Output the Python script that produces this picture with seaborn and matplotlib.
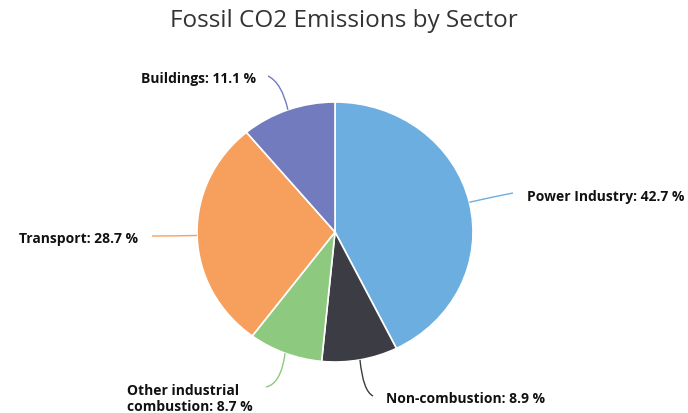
import numpy as np
import matplotlib
matplotlib.use("Agg")
import matplotlib.pyplot as plt
import seaborn as sns
from matplotlib.path import Path
from matplotlib.patches import PathPatch

# data
sectors = ["Power Industry", "Non-combustion", "Other industrial\ncombustion", "Transport", "Buildings"]
shares = [42.7, 8.9, 8.7, 28.7, 11.1]
colors = ["#6daee0", "#3c3d44", "#8dc97e", "#f7a05d", "#727bbd"]

sns.set_theme(style="white")
plt.rcParams['font.family'] = ['Open Sans', 'DejaVu Sans']

W, H = 688, 414
fig = plt.figure(figsize=(W / 100, H / 100), dpi=100)

# pie sits in its own axes (slightly wider than tall, like the reference)
cx, cy, rx, ry = 335, 233, 138, 130
ax = fig.add_axes([(cx - rx) / W, (H - cy - ry) / H, 2 * rx / W, 2 * ry / H])
wedges, _ = ax.pie(shares, colors=colors, startangle=90, counterclock=False,
                   radius=1, frame=True,
                   wedgeprops=dict(edgecolor="white", linewidth=1.2))
ax.set_aspect("auto")
ax.set_xlim(-1, 1)
ax.set_ylim(-1, 1)
ax.axis("off")

# overlay in pixel coords for labels and connectors
ov = fig.add_axes([0, 0, 1, 1], facecolor="none")
ov.set_xlim(0, W)
ov.set_ylim(H, 0)
ov.axis("off")

# label layout: (control point, connector end, text xy, ha)
layout = [
    ((492, 198), (513, 194), (527, 197), "left"),
    ((363, 392), (373, 397), (386, 399), "left"),
    ((281, 385), (266, 388), (253, 399), "right"),
    ((175, 237), (152, 237), (138, 239), "right"),
    ((282, 84), (268, 77), (256, 79), "right"),
]

for w, name, val, col, (ctrl, end, txy, ha) in zip(wedges, sectors, shares, colors, layout):
    t = np.deg2rad((w.theta1 + w.theta2) / 2)
    start = (cx + rx * np.cos(t), cy - ry * np.sin(t))
    path = Path([start, ctrl, end], [Path.MOVETO, Path.CURVE3, Path.CURVE3])
    ov.add_patch(PathPatch(path, fill=False, edgecolor=col, linewidth=1))
    ov.text(txy[0], txy[1], f"{name}: {val} %", ha=ha, va="center",
            multialignment="left", fontsize=10, fontweight="bold", color="#111111",
            linespacing=1.25)

fig.text(0.5, 1 - 27 / H, "Fossil CO2 Emissions by Sector", ha="center", va="baseline",
         fontsize=17.5, color="#333333")

fig.savefig("out.png", dpi=100, facecolor="white")
